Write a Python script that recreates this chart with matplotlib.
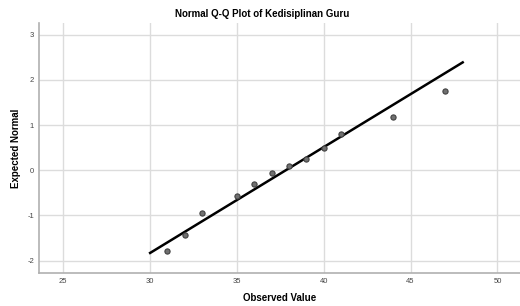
import matplotlib
matplotlib.use('Agg')
import matplotlib.pyplot as plt

observed = [31, 32, 33, 35, 36, 37, 38, 39, 40, 41, 44, 47]
expected = [-1.78, -1.43, -0.95, -0.56, -0.30, -0.05, 0.10, 0.24, 0.50, 0.80, 1.19, 1.76]

# reference line end points
line_x = [30, 48]
line_y = [-1.83, 2.39]

x_ticks = [25, 30, 35, 40, 45, 50]
y_ticks = [-2, -1, 0, 1, 2, 3]

plt.rcParams['font.family'] = ['Liberation Sans', 'DejaVu Sans']
plt.rcParams['axes.unicode_minus'] = False

fig = plt.figure(figsize=(5.2, 3.06), dpi=100)
ax = fig.add_axes([0.075, 0.107, 0.925, 0.819])

ax.plot(line_x, line_y, color='black', linewidth=1.8, zorder=3)
ax.scatter(observed, expected, s=14, color='#707070', edgecolors='#404040',
           linewidths=0.8, zorder=4)

ax.set_xlim(23.6, 51.3)
ax.set_ylim(-2.28, 3.27)
ax.set_xticks(x_ticks)
ax.set_yticks(y_ticks)
ax.grid(True, color='#dcdcdc', linewidth=1.0)
ax.set_axisbelow(True)

for side in ['top', 'right']:
    ax.spines[side].set_visible(False)
for side in ['left', 'bottom']:
    ax.spines[side].set_color('#b0b0b0')
    ax.spines[side].set_linewidth(1.2)

ax.tick_params(length=0, labelsize=5.5, labelcolor='#444444')
ax.tick_params(axis='x', pad=3.5)
ax.tick_params(axis='y', pad=3.5)

fig.text(0.505, 1 - 14 / 306, 'Normal Q-Q Plot of Kedisiplinan Guru',
         fontsize=7, fontweight='bold', ha='center', va='center')
ax.set_xlabel('Observed Value', fontsize=7, fontweight='bold')
ax.set_ylabel('Expected Normal', fontsize=7, fontweight='bold')
ax.xaxis.set_label_coords(0.5, -0.099)
ax.yaxis.set_label_coords(-0.047, 0.5)
ax.xaxis.label.set_va('center')
ax.yaxis.label.set_va('center')

fig.savefig('out.png', dpi=100)
